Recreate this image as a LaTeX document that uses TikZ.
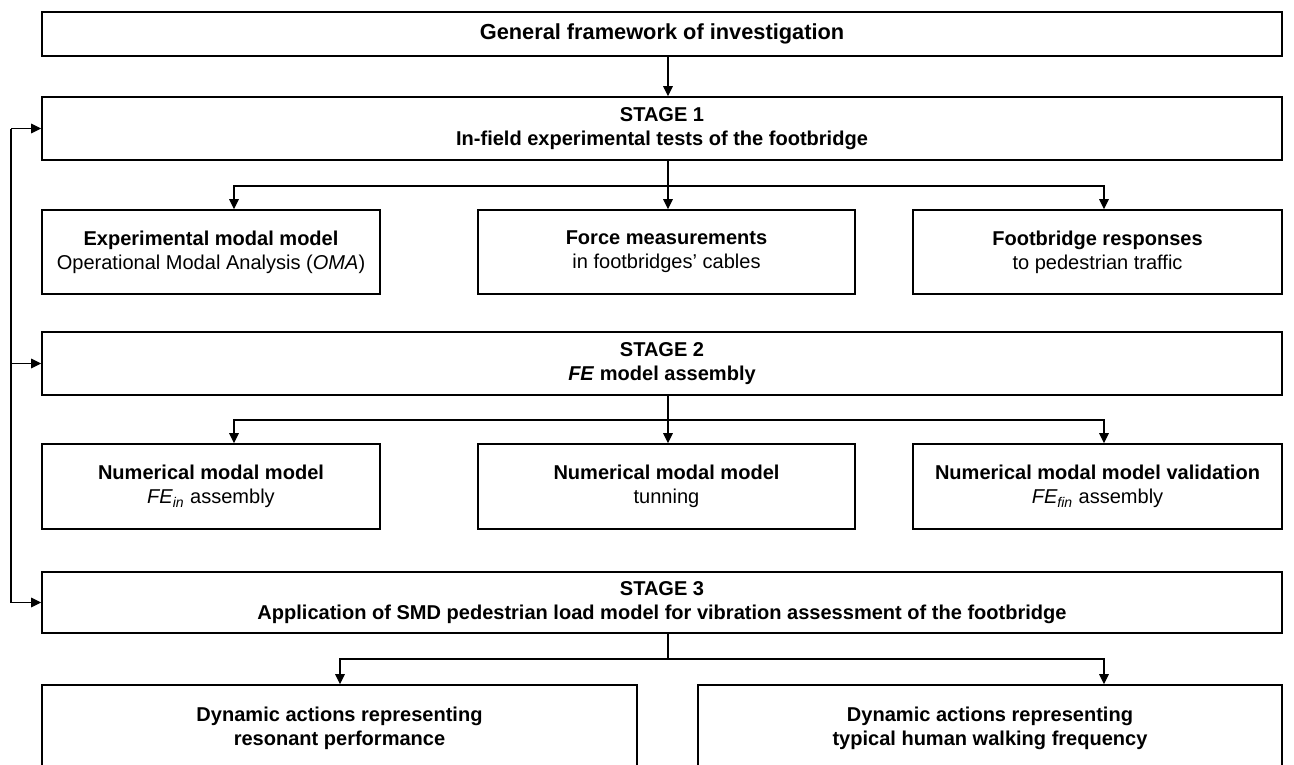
\documentclass[tikz,border=0pt]{standalone}
\usepackage{fontspec}
\setmainfont{Liberation Sans}
\usetikzlibrary{arrows.meta,positioning,calc}
\newcommand{\px}{0.02cm}
\begin{document}
\begin{tikzpicture}[
  x=0.02cm, y=-0.02cm,
  every node/.style={font=\fontsize{11.4}{13.6}\selectfont},
  box/.style={draw, line width=0.9pt, align=center, inner sep=0pt,
              minimum width={#1*\px}},
  arr/.style={-{Triangle[length=2mm,width=1.9mm]}, line width=0.7pt},
]
\useasboundingbox (0,0) rectangle (1294,764);
\clip (0,0) rectangle (1294,764);
% stages
\node[box=1240, minimum height={44*\px}, font=\fontsize{12.4}{14}\selectfont] (gen) at (662,34)
  {\textbf{General framework of investigation}};
\node[box=1240, minimum height={63*\px}] (s1) at (662,128.5)
  {\textbf{STAGE 1}\\\textbf{In-field experimental tests of the footbridge}};
\node[box=1240, minimum height={63*\px}] (s2) at (662,363.5)
  {\textbf{STAGE 2}\\\textbf{\textit{FE} model assembly}};
\node[box=1240, minimum height={61*\px}] (s3) at (662,602.5)
  {\textbf{STAGE 3}\\\textbf{Application of SMD pedestrian load model for vibration assessment of the footbridge}};
% stage 1 tasks
\node[box=338, minimum height={84*\px}] (e1) at (211,252)
  {\textbf{Experimental modal model}\\Operational Modal Analysis (\textit{OMA})};
\node[box=377, minimum height={84*\px}] (e2) at (666.5,252)
  {\textbf{Force measurements}\\in footbridges’ cables};
\node[box=369, minimum height={84*\px}] (e3) at (1097.5,252)
  {\textbf{Footbridge responses}\\to pedestrian traffic};
% stage 2 tasks
\node[box=338, minimum height={85*\px}] (n1) at (211,486.5)
  {\textbf{Numerical modal model}\\\textit{FE\textsubscript{in}} assembly};
\node[box=377, minimum height={85*\px}] (n2) at (666.5,486.5)
  {\textbf{Numerical modal model}\\tunning};
\node[box=369, minimum height={85*\px}] (n3) at (1097.5,486.5)
  {\textbf{Numerical modal model validation}\\\textit{FE\textsubscript{fin}} assembly};
% stage 3 tasks
\node[box=595, minimum height={86*\px}] (d1) at (339.5,728)
  {\textbf{Dynamic actions representing}\\\textbf{resonant performance}};
\node[box=584, minimum height={86*\px}] (d2) at (990,728)
  {\textbf{Dynamic actions representing}\\\textbf{typical human walking frequency}};
% connectors
\draw[arr] (gen.south -| 668,0) -- (s1.north -| 668,0);
\coordinate (j1) at (668,186);
\draw[line width=0.7pt] (s1.south -| j1) -- (j1);
\draw[arr] (j1) -| (e1.north -| 234,0);
\draw[arr] (j1) -| (e3.north -| 1104,0);
\draw[arr] (j1) -- (e2.north -| j1);
\coordinate (j2) at (668,420);
\draw[line width=0.7pt] (s2.south -| j2) -- (j2);
\draw[arr] (j2) -| (n1.north -| 234,0);
\draw[arr] (j2) -| (n3.north -| 1104,0);
\draw[arr] (j2) -- (n2.north -| j2);
\coordinate (j3) at (668,659);
\draw[line width=0.7pt] (s3.south -| j3) -- (j3);
\draw[arr] (j3) -| (d1.north -| 340,0);
\draw[arr] (j3) -| (d2.north -| 1104,0);
% feedback line
\coordinate (fb) at (11,128.5);
\draw[arr] (fb) -- (s1.west);
\draw[arr] (fb) |- (s3.west);
\draw[arr] (fb |- s2.west) -- (s2.west);
\end{tikzpicture}
\end{document}
